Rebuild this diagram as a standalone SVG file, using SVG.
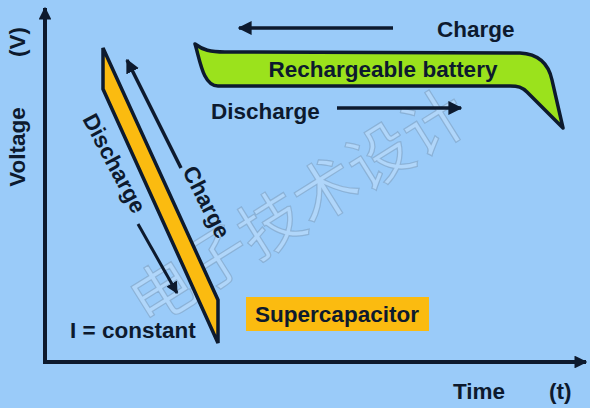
<svg xmlns="http://www.w3.org/2000/svg" width="590" height="408" viewBox="0 0 590 408">
<defs>
<style>
.t{font-family:"Liberation Sans",Arial,sans-serif;font-weight:bold;font-size:22.5px;fill:#0d1a2e}
.ln{stroke:#0d1a2e;fill:none}
.wm{font-family:"Noto Sans CJK SC",sans-serif;font-size:64px;fill:#ffffff;fill-opacity:0.22;stroke:#6f8fae;stroke-opacity:0.45;stroke-width:1.2}
</style>
<marker id="ah" viewBox="0 0 10 10" refX="9" refY="5" markerWidth="4" markerHeight="4" orient="auto" markerUnits="strokeWidth">
<path d="M0,0 L10,5 L0,10 z" fill="#0d1a2e"/>
</marker>
<marker id="ah2" viewBox="0 0 10 10" refX="9" refY="5" markerWidth="3.2" markerHeight="3.2" orient="auto" markerUnits="strokeWidth">
<path d="M0,0 L10,5 L0,10 z" fill="#0d1a2e"/>
</marker>
</defs>
<rect width="590" height="408" fill="#9acbf9"/>
<g id="watermark">
<text class="wm" x="300" y="230" text-anchor="middle" transform="rotate(-32 300 210)">电子技术设计</text>
</g>
<g id="axes">
<line class="ln" x1="45" y1="362" x2="45" y2="8" stroke-width="4" marker-end="url(#ah2)"/>
<line class="ln" x1="43" y1="362" x2="586" y2="362" stroke-width="4" marker-end="url(#ah2)"/>
</g>
<g id="axis-labels">
<text class="t" transform="translate(25 147) rotate(-90)" text-anchor="middle">Voltage</text>
<text class="t" transform="translate(25 42) rotate(-90)" text-anchor="middle">(V)</text>
<text class="t" x="453" y="399">Time</text>
<text class="t" x="549" y="399">(t)</text>
</g>
<g id="supercap-curve">
<path d="M103,48 L218,300 L218,343 L103,89 Z" fill="#fbbb10" stroke="#0d1a2e" stroke-width="3.5" stroke-linejoin="miter"/>
</g>
<g id="battery-curve">
<path d="M195,44 C203,50 210,52 225,52 L520,53 C540,54 549,66 552,80 L563,128 L527,92 C522,87 518,86 510,86 L218,86 C203,86 200,60 195,44 Z" fill="#9be21c" stroke="#0d1a2e" stroke-width="3.5" stroke-linejoin="round"/>
<text class="t" x="383" y="77" text-anchor="middle">Rechargeable battery</text>
</g>
<g id="supercap-label">
<rect x="246" y="297" width="183" height="34" fill="#fbbb10"/>
<text class="t" x="337" y="322" text-anchor="middle">Supercapacitor</text>
</g>
<g id="connectors">
<line class="ln" x1="181" y1="168" x2="127" y2="60" stroke-width="3.5" marker-end="url(#ah)"/>
<line class="ln" x1="138" y1="224" x2="177" y2="293" stroke-width="3" marker-end="url(#ah)"/>
<line class="ln" x1="393" y1="28" x2="239" y2="28" stroke-width="3.5" marker-end="url(#ah)"/>
<line class="ln" x1="337" y1="108" x2="461" y2="108" stroke-width="3.5" marker-end="url(#ah)"/>
</g>
<g id="texts">
<text class="t" transform="translate(182 171) rotate(63)">Charge</text>
<text class="t" transform="translate(82 119) rotate(62)">Discharge</text>
<text class="t" x="70" y="338">I = constant</text>
<text class="t" x="437" y="37">Charge</text>
<text class="t" x="211" y="119">Discharge</text>
</g>
</svg>
